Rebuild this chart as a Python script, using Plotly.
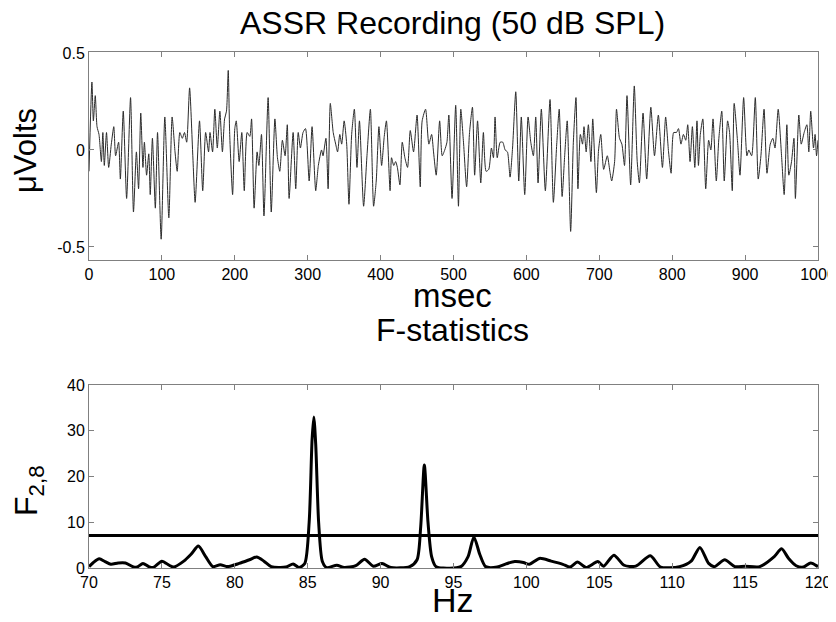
""" ASSR recording trace and F-statistics spectrum. """

import plotly.graph_objects as go
from plotly.subplots import make_subplots

TIME_MS = [
    0, 4, 6, 8.6, 11, 13.7, 17, 19, 21, 24, 27, 30.6, 34, 36.5, 40.6, 43, 47,
    51.6, 57, 61, 65, 68, 71, 74, 76, 79, 82, 84, 87, 91, 94, 99, 104, 109.5,
    114, 118, 121, 124.6, 128, 131, 134, 138, 142.4, 145.6, 151.6, 156, 160,
    164, 166, 169.5, 172.6, 176, 179.5, 183, 186, 188.6, 191, 193, 197, 200,
    202, 206, 209.6, 213, 217, 220.6, 223, 226.5, 230.6, 233, 236.6, 240,
    245.7, 250, 255, 258.5, 261.7, 265.3, 269, 272, 274.5, 280, 283.6, 287,
    290, 293.6, 297, 302, 306, 311, 314.6, 319, 321, 325, 328, 331, 335,
    338.4, 341, 344, 346.6, 350, 353.5, 356.6, 360.3, 364, 367.6, 371, 376.7,
    381.3, 386, 390.4, 394, 397.7, 401.4, 405, 408, 413, 415, 418, 420.6, 423,
    426.5, 429.7, 433.3, 437, 440.7, 445.2, 450, 454.4, 457, 461.7, 466.2,
    470, 472.6, 476.3, 481, 484.5, 488, 491, 493.6, 498, 503, 506.8, 510,
    513.7, 518, 522, 526, 529, 533, 537.4, 541, 544.7, 548.4, 552, 554.8, 557,
    560, 564, 567.6, 570.8, 574, 577.6, 581, 585.4, 589.5, 593, 597.7, 602.3,
    606, 609.6, 612.8, 616, 620.5, 626, 632.4, 637, 641.6, 645, 649, 652.5,
    656, 660.7, 664.4, 668, 670.7, 674, 677, 679, 682, 685, 688.5, 691, 696,
    699, 702, 706, 711, 714.5, 717, 721, 723.6, 727.7, 731, 734.6, 738, 743,
    748, 752, 755, 760, 765, 770.7, 775.7, 781, 786.6, 791, 795, 798.5, 802,
    805.8, 808.6, 812, 815.4, 818.6, 821.3, 824.5, 827.7, 831, 834, 836,
    838.6, 842, 846, 850, 853, 856, 860.5, 864, 868, 871.4, 876, 878.7, 882.4,
    885, 889.7, 893, 898, 902.5, 905, 909, 914, 918, 921.7, 926, 930, 934.5,
    938, 941, 945.4, 950, 953.6, 957.3, 960, 963.7, 967, 969, 973.7, 977, 981,
    984.7, 987.4, 990, 993.8, 996, 998, 1000,
]
MICROVOLTS = [
    -0.11, 0.35, 0.15, 0.28, 0.12, 0.08, -0.06, 0.09, -0.08, 0.09, -0.09,
    0.03, 0.12, -0.03, 0.04, -0.15, 0.2, -0.25, 0.27, -0.32, -0.01, -0.2,
    0.19, -0.09, 0.04, -0.13, -0.02, -0.23, 0.06, -0.30, 0.09, -0.46, 0.17,
    -0.35, 0.17, -0.01, -0.11, 0.09, 0.06, 0.09, 0.04, 0.32, -0.03, -0.27,
    0.15, -0.21, 0.09, -0.01, 0.09, -0.01, 0.21, 0.01, 0.2, -0.01, 0.16, 0.2,
    0.41, 0.08, -0.23, 0.11, 0.15, -0.06, 0.09, -0.21, 0.09, 0.07, 0.16,
    -0.30, -0.01, -0.08, 0.08, -0.34, 0.27, -0.32, 0.16, -0.04, -0.11, 0.05,
    -0.03, 0.13, -0.25, 0.09, -0.2, 0.09, 0.01, 0.09, 0.11, -0.16, 0.12,
    -0.21, -0.08, 0, -0.03, 0.06, -0.2, 0.24, 0.09, 0.03, -0.01, 0.08, 0.03,
    0.15, 0.03, -0.28, 0.08, 0.21, -0.09, 0.15, -0.29, -0.03, 0.21, -0.29,
    -0.16, 0.12, -0.08, 0.07, 0.15, -0.21, -0.04, -0.08, -0.06, -0.09, -0.18,
    0.04, -0.04, -0.09, 0.1, -0.01, 0.18, -0.19, 0.15, 0.21, 0.03, 0.08,
    -0.01, -0.13, 0.15, -0.03, 0, 0.04, 0.18, -0.25, 0.23, -0.29, 0.21, 0.04,
    -0.19, 0.09, 0.22, -0.13, 0.15, -0.17, 0.09, -0.11, -0.1, 0.01, -0.04,
    0.17, -0.04, 0.04, 0.04, 0, -0.01, -0.14, 0.01, 0.3, -0.16, 0.17, -0.23,
    0.17, 0.04, -0.03, 0.17, -0.17, 0.21, -0.21, 0.26, -0.27, 0.03, 0.21,
    -0.24, -0.03, 0.15, -0.42, 0.04, 0.27, -0.2, 0.08, 0.03, 0.12, -0.01,
    0.13, -0.06, 0.16, -0.22, 0, 0.08, -0.1, -0.03, -0.11, -0.16, -0.06, 0.21,
    0.06, 0.03, -0.08, 0.28, -0.18, 0.33, -0.06, -0.17, 0.19, -0.15, 0.22,
    -0.03, 0.18, -0.09, 0.17, -0.01, -0.12, 0.09, 0.09, 0.11, 0.03, 0.08,
    0.05, 0.13, -0.06, 0.12, -0.09, 0.15, -0.08, 0.08, 0.16, -0.2, 0.05, 0,
    0.16, -0.16, 0.06, 0.2, -0.16, 0.15, 0.09, -0.21, 0.24, 0.04, -0.13, 0.27,
    -0.03, 0, -0.03, 0.27, -0.15, -0.03, 0.21, -0.12, 0.03, 0.06, 0.01, 0.21,
    -0.03, -0.23, 0.13, -0.13, -0.06, 0.06, -0.25, 0.18, 0.03, 0.09, 0.13,
    -0.01, 0.2, 0.01, 0.08, -0.03, 0.05,
]

# Bottom panel: F-statistics spectrum
FREQ_HZ = [
    70.0, 70.3, 70.7, 71.1, 71.5, 72.0, 72.5, 73.0, 73.3, 73.7, 74.1, 74.4,
    75.0, 75.5, 75.8, 76.5, 77.0, 77.5, 78.0, 78.5, 79.0, 79.5, 80.3, 81.0,
    81.5, 82.0, 82.5, 83.5, 84.0, 84.4, 84.8, 85.1, 85.3, 85.42, 85.55, 85.75,
    86.0, 86.3, 87.0, 87.5, 88.3, 88.9, 89.5, 90.1, 90.7, 92.0, 92.5, 92.75,
    93.0, 93.25, 93.5, 93.8, 94.3, 95.5, 96.0, 96.4, 96.8, 97.2, 98.0, 98.6,
    99.2, 99.8, 100.2, 100.9, 101.7, 102.5, 103.0, 103.5, 104.1, 104.9, 105.3,
    106.0, 106.7, 107.5, 108.5, 109.2, 110.5, 111.3, 111.9, 112.5, 112.9,
    113.6, 114.3, 115.0, 116.0, 117.0, 117.5, 118.0, 118.5, 119.0, 119.5,
    120.0,
]
F_STAT = [
    0.3, 1.2, 2.0, 1.4, 0.8, 1.1, 1.1, 0.3, 0.2, 1.0, 0.3, 0.1,
    1.5, 0.6, 0.2, 1.5, 3.0, 4.8, 2.5, 0.3, 0.7, 0.3, 1.0, 1.8,
    2.4, 1.5, 0.3, 0.2, 0.9, 0.1, 1.0, 10, 28, 33, 27, 10,
    1.5, 0.1, 0.6, 0.1, 0.5, 1.9, 0.4, 1.0, 0.1, 0.3, 1.8, 9,
    22.5, 10, 2.5, 0.3, 0, 0.3, 2.5, 6.8, 3, 0.3, 0.2, 0.9,
    1.4, 1.2, 0.8, 2.1, 1.5, 0.8, 0.2, 1.3, 0.1, 1.4, 0.4,
    2.8, 0.6, 0.4, 2.7, 0.2, 0.3, 1.5, 4.5, 1.0, 0.3,
    1.8, 0.3, 0.4, 0.3, 2.5, 4.2, 2.0, 0.5, 0.2, 1.1,
    0.3,
]
F_CRITICAL = 7.1

FONT = "Liberation Sans, Arial, sans-serif"
TICK_FONT = dict(family="Liberation Sans Narrow, Arial Narrow, " + FONT,
                 size=16, color="black")
FRAME = "#808080"

fig = make_subplots(rows=2, cols=1, vertical_spacing=0.242)

fig.add_trace(go.Scatter(x=TIME_MS, y=MICROVOLTS, mode="lines",
                         line=dict(color="#2b2b2b", width=1, shape="spline",
                                   smoothing=0.6),
                         showlegend=False), row=1, col=1)
fig.add_trace(go.Scatter(x=FREQ_HZ, y=F_STAT, mode="lines",
                         line=dict(color="black", width=3, shape="spline",
                                   smoothing=0.7),
                         showlegend=False), row=2, col=1)
fig.add_trace(go.Scatter(x=[FREQ_HZ[0], FREQ_HZ[-1]],
                         y=[F_CRITICAL, F_CRITICAL], mode="lines",
                         line=dict(color="black", width=3),
                         showlegend=False), row=2, col=1)

axis_style = dict(showline=True, linecolor=FRAME, linewidth=1, mirror="ticks",
                  ticks="inside", ticklen=5, tickcolor=FRAME, showgrid=False,
                  zeroline=False, tickfont=TICK_FONT, automargin=False)

fig.update_xaxes(range=[0, 1000], tickvals=list(range(0, 1001, 100)),
                 **axis_style, row=1, col=1)
fig.update_yaxes(range=[-0.567, 0.505], tickvals=[-0.5, 0, 0.5],
                 ticktext=["-0.5", "0", "0.5"], **axis_style, row=1, col=1)
fig.update_xaxes(range=[70, 120], tickvals=list(range(70, 121, 5)),
                 **axis_style, row=2, col=1)
fig.update_yaxes(range=[0, 40], tickvals=[0, 10, 20, 30, 40],
                 **axis_style, row=2, col=1)

# the page puts the figure 8 px in from the top-left corner
fig.update_layout(
    width=828, height=614,
    margin=dict(l=81, r=18, t=44, b=54),
    paper_bgcolor="white", plot_bgcolor="white",
    font=dict(family=FONT, color="black"),
)
fig.layout.yaxis.domain = [0.597, 1.0]
fig.layout.yaxis2.domain = [0.0, 0.3547]

labels = [
    ("ASSR Recording (50 dB SPL)", 0.4993, 1.056, 0, 32),
    ("msec", 0.4993, 0.529, 0, 33),
    ("F-statistics", 0.4993, 0.461, 0, 32),
    ("Hz", 0.4993, -0.062, 0, 34),
    ("\u03bcVolts", -0.0878, 0.81, -90, 31),
    ("F<sub>2,8</sub>", -0.0837, 0.151, -90, 32),
]
for text, x, y, angle, size in labels:
    fig.add_annotation(text=text, x=x, y=y, xref="paper", yref="paper",
                       showarrow=False, textangle=angle,
                       font=dict(family=FONT, size=size, color="black"),
                       xanchor="center", yanchor="middle")

fig.write_html("out.html")
